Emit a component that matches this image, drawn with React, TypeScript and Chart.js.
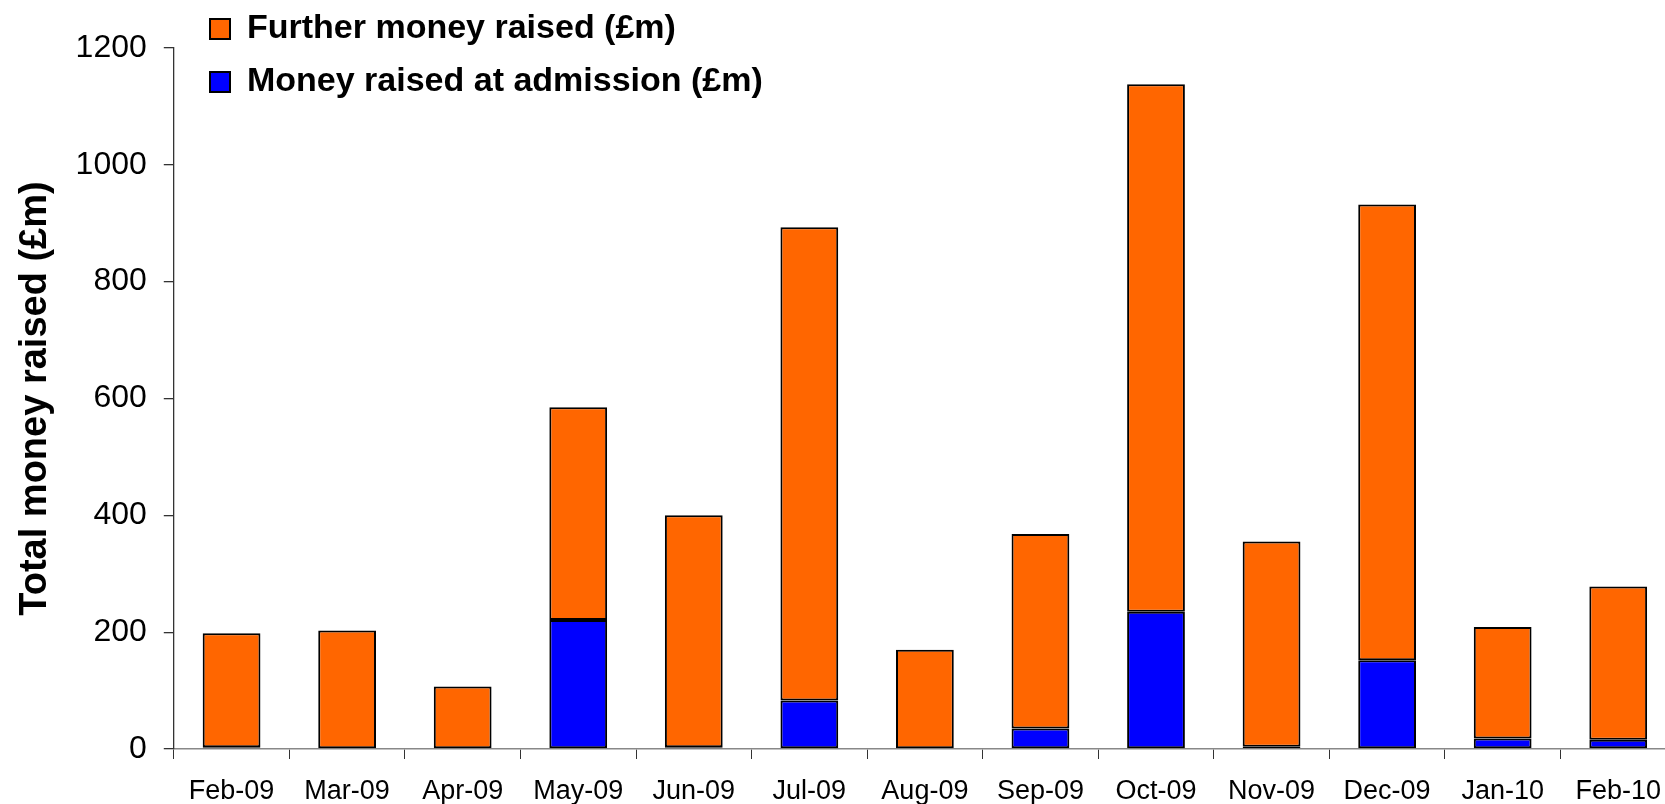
import { useEffect, useRef } from "react";
import { Chart, registerables } from "chart.js";

Chart.register(...registerables);

const FONT = "'Liberation Sans', Arial, Helvetica, sans-serif";

const categories = [
  "Feb-09", "Mar-09", "Apr-09", "May-09", "Jun-09", "Jul-09", "Aug-09",
  "Sep-09", "Oct-09", "Nov-09", "Dec-09", "Jan-10", "Feb-10",
];
const admissionValues = [3, 0, 0, 221, 3, 83, 0, 35, 235, 4, 152, 18, 16];
const furtherValues = [195, 203, 107, 364, 397, 810, 170, 333, 903, 351, 780, 191, 262];
const seriesNames = ["Money raised at admission (£m)", "Further money raised (£m)"];
const yAxisTitle = "Total money raised (£m)";
const yMin = 0;
const yMax = 1200;
const yStep = 200;

const legendShift = {
  id: "legendShift",
  afterLayout(chart: any) {
    const lg = chart.legend;
    if (!lg) return;
    const w = lg.width;
    const h = lg.height;
    lg.left = 191;
    lg.top = -7;
    lg.right = lg.left + w;
    lg.bottom = lg.top + h;
  },
};

export default function App() {
  const ref = useRef<HTMLCanvasElement | null>(null);

  useEffect(() => {
    if (!ref.current) return;
    Chart.defaults.font.family = FONT;
    const chart = new Chart(ref.current, {
      type: "bar",
      data: {
        labels: categories,
        datasets: [
          {
            label: seriesNames[0],
            data: admissionValues,
            backgroundColor: "#0000FF",
            borderColor: "#000000",
            borderWidth: 2,
            borderSkipped: false,
            barPercentage: 0.5,
            categoryPercentage: 1,
          },
          {
            label: seriesNames[1],
            data: furtherValues,
            backgroundColor: "#FF6600",
            borderColor: "#000000",
            borderWidth: 2,
            borderSkipped: false,
            barPercentage: 0.5,
            categoryPercentage: 1,
          },
        ],
      },
      options: {
        animation: false,
        responsive: true,
        maintainAspectRatio: false,
        layout: { padding: { left: 9, top: 48, right: 4, bottom: -19.4 } },
        plugins: {
          tooltip: { enabled: false },
          legend: {
            position: "chartArea" as any,
            align: "start",
            reverse: true,
            labels: {
              boxWidth: 20,
              boxHeight: 20,
              padding: 19,
              color: "#000",
              font: { family: FONT, size: 34, weight: "bold" },
            },
          },
        },
        scales: {
          x: {
            stacked: true,
            ticks: { color: "#000", font: { family: FONT, size: 27 }, padding: 16, maxRotation: 0, autoSkip: false },
            grid: { drawOnChartArea: false, drawTicks: true, tickLength: 10, color: "#333", offset: true },
            border: { color: "#888", width: 1.5 },
          },
          y: {
            stacked: true,
            min: yMin,
            max: yMax,
            ticks: {
              stepSize: yStep,
              color: "#000",
              font: { family: FONT, size: 32 },
              padding: 17,
              callback: (v: any) => String(v),
            },
            grid: { drawOnChartArea: false, drawTicks: true, tickLength: 10, color: "#333", lineWidth: 1.3 },
            border: { color: "#333", width: 1.3 },
            title: {
              display: true,
              text: yAxisTitle,
              color: "#000",
              font: { family: FONT, size: 38, weight: "bold" },
              padding: { top: 4, bottom: 0 },
            },
          },
        },
      },
      plugins: [legendShift],
    });
    return () => chart.destroy();
  }, []);

  return (
    <div style={{ position: "fixed", left: 0, top: 0, width: 1665, height: 804, overflow: "hidden", background: "#fff" }}>
      <div style={{ position: "relative", width: 1680, height: 804 }}>
        <canvas ref={ref} />
      </div>
    </div>
  );
}
